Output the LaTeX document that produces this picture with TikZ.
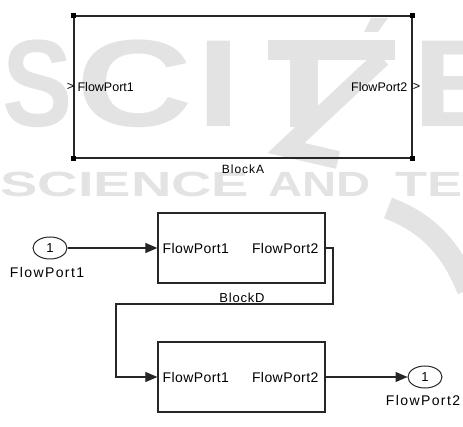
\documentclass[tikz,border=0pt]{standalone}
\usepackage{fontspec}
\setmainfont{Liberation Sans}
\usetikzlibrary{arrows.meta,shapes.geometric}
\begin{document}
\begin{tikzpicture}[x=1pt,y=-1pt,
  wmcol/.style={black!11},
  wm/.style={text=black!11, inner sep=0, font=\fontsize{124}{124}\selectfont\bfseries, anchor=base west},
  wmsmall/.style={text=black!11, inner sep=0, font=\fontsize{35}{35}\selectfont\bfseries, anchor=base west},
  blk/.style={draw=black!85, line width=1.2pt, inner sep=0, minimum width=167pt, minimum height=70pt},
  bigblk/.style={draw=black!85, line width=1.2pt, inner sep=0, minimum width=338pt, minimum height=142pt},
  lbl/.style={inner sep=0, font=\fontsize{14}{16}\selectfont\addfontfeature{LetterSpace=3}},
  lblwide/.style={inner sep=0, font=\fontsize{14}{16}\selectfont\addfontfeature{LetterSpace=10}},
  small/.style={inner sep=0, font=\fontsize{12.5}{14}\selectfont},
  port/.style={draw=black!85, line width=1pt, ellipse, inner sep=0, minimum width=34pt, minimum height=22pt, font=\fontsize{13}{14}\selectfont},
  conn/.style={draw=black!85, line width=1.1pt, -{Triangle[length=12pt,width=10pt]}},
  handle/.style={fill=black}
]
\useasboundingbox (0,0) rectangle (463,427);

% ---------- watermark ----------
\node[wm, xscale=0.85] (wS) at (2,127) {S};
\node[wm, xscale=1.3] (wC) at (76,127) {C};
\node[wm, xscale=1.3] (wI) at (196,127) {I};
\fill[wmcol] (268,40) rectangle (395,60);
\fill[wmcol] (290,40) rectangle (318,127);
\draw[wmcol, line width=18pt] (382,58) -- (286,148) -- (338,160);
\fill[wmcol] (371,18) -- (388,18) -- (378,32) -- (364,32) -- cycle;
\node[wm, xscale=1.2] (wE) at (412,127) {E};
\node[wmsmall, xscale=1.6] (w2a) at (0,197) {SCIENCE};
\node[wmsmall, xscale=1.35] (w2b) at (268,197) {AND};
\node[wmsmall, xscale=1.5] (w2c) at (395,197) {TECHNOLOGY};
\draw[wmcol, line width=22pt] (388,208) .. controls (425,222) and (450,245) .. (468,290);

% ---------- Block A ----------
\node[bigblk] (A) at (243,87) {};
\foreach \c in {north west, north east, south west, south east}
  \fill[handle] (A.\c) ++(-2.5,-2.5) rectangle ++(5,5);
\node[small, anchor=center] (Ain) at ([xshift=-3pt]A.west) {>};
\node[small, anchor=west] (Ap1) at ([xshift=4pt]A.west) {FlowPort1};
\node[small, anchor=center] (Aout) at ([xshift=4pt]A.east) {>};
\node[small, anchor=east] (Ap2) at ([xshift=-5pt]A.east) {FlowPort2};
\node[small, font=\fontsize{12}{14}\selectfont\addfontfeature{LetterSpace=8}] (An) at (243,169) {BlockA};

% ---------- Block D ----------
\node[blk] (D) at (241.5,248) {};
\node[lbl, anchor=west] (D1) at ([xshift=5pt]D.west) {FlowPort1};
\node[lbl, anchor=east] (D2) at ([xshift=-7pt]D.east) {FlowPort2};
\node[lbl, font=\fontsize{13}{15}\selectfont\addfontfeature{LetterSpace=6}] (Dn) at (242,298) {BlockD};

% ---------- Block B ----------
\node[blk] (B) at (241.5,377) {};
\node[lbl, anchor=west] (B1) at ([xshift=5pt]B.west) {FlowPort1};
\node[lbl, anchor=east] (B2) at ([xshift=-7pt]B.east) {FlowPort2};
\node[lbl, anchor=base, font=\fontsize{13}{15}\selectfont\addfontfeature{LetterSpace=6}] (Bn) at (242,437) {BlockB};

% ---------- ports ----------
\node[port] (I1) at (50,248) {1};
\node[lblwide] (I1n) at (47,272) {FlowPort1};
\node[port] (O1) at (425,377) {1};
\node[lblwide] (O1n) at (423,400) {FlowPort2};

% ---------- connectors ----------
\coordinate (j1) at (333,304);
\coordinate (j2) at (116,304);
\draw[conn] (I1.east) -- (D.west);
\draw[conn] (D.east) -| (j1) -- (j2) |- (B.west);
\draw[conn] (B.east) -- (O1.west);
\end{tikzpicture}
\end{document}
